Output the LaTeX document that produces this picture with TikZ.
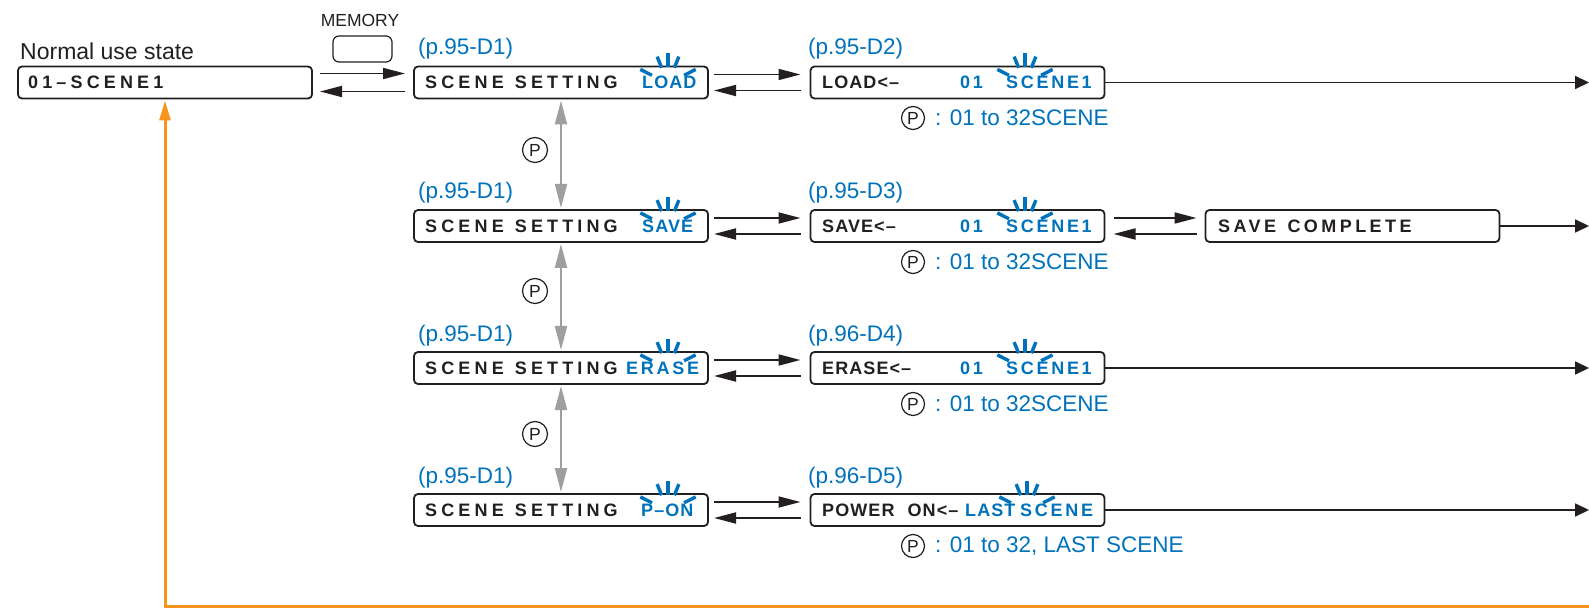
\documentclass[tikz,border=0pt]{standalone}
\usepackage{fontspec}
\setmainfont{Liberation Sans}
\newfontfamily\lcdA[LetterSpace=23]{Liberation Sans Bold}
\newfontfamily\lcdS[LetterSpace=19]{Liberation Sans Bold}
\newfontfamily\lcdB[LetterSpace=15]{Liberation Sans Bold}
\newfontfamily\lcdC[LetterSpace=6]{Liberation Sans Bold}
\usetikzlibrary{arrows.meta,calc}
\definecolor{ink}{HTML}{231F20}
\definecolor{lblue}{HTML}{0072BC}
\definecolor{agray}{HTML}{9D9FA2}
\definecolor{orng}{HTML}{F7941D}
\tikzset{
 box/.style={draw=ink, line width=1.8pt, rounded corners=4pt, minimum width=294pt, minimum height=32pt, inner sep=0pt, outer sep=0pt},
 lcd/.style={anchor=west, inner sep=0pt, text=ink, font=\lcdB\fontsize{18}{20}\selectfont},
 lcdw/.style={lcd, font=\lcdA\fontsize{18}{20}\selectfont},
 lcds/.style={lcd, font=\lcdS\fontsize{18}{20}\selectfont},
 lcdt/.style={lcd, font=\lcdC\fontsize{18}{20}\selectfont},
 lbl/.style={anchor=west, inner sep=0pt, text=lblue, font=\fontsize{22.5}{27}\selectfont},
 arr/.style={draw=ink, line width=1.8pt, -{Triangle[length=22pt,width=11pt]}},
 varr/.style={draw=agray, line width=2pt, {Triangle[length=24pt,width=12pt]}-{Triangle[length=24pt,width=12pt]}},
 earr/.style={draw=ink, line width=1.8pt, -{Triangle[length=14pt,width=13pt]}},
 oarr/.style={draw=orng, line width=3pt, -{Triangle[length=20pt,width=11pt]}},
 pc/.style={circle, draw=ink, line width=1.2pt, minimum size=23pt, inner sep=0pt, text=ink, font=\fontsize{17.5}{17.5}\selectfont},
 blink/.style={draw=lblue, line width=3.4pt},
}
\newcommand\blinkfan[1]{%
  \foreach \a/\ri/\ro in {-27/18/31,-68/17/29,-90/16/30,-112/17/29,-153/18/31}
    \draw[blink] ($(#1)+(\a:\ri)$) -- ($(#1)+(\a:\ro)$);}
\begin{document}
\begin{tikzpicture}[x=1pt,y=-1pt]
\useasboundingbox (0,0) rectangle (1589,609);
% header
\node[anchor=west, inner sep=0pt, text=ink, font=\fontsize{23}{27}\selectfont] (nus) at (20,51) {Normal use state};
\node[inner sep=0pt, text=ink, font=\fontsize{17.5}{20}\selectfont] (memt) at (360,20) {MEMORY};
\node[draw=ink, line width=1.2pt, rounded corners=6pt, minimum width=59pt, minimum height=26pt, inner sep=0pt] (memb) at (362.5,49) {};
% boxes
\node[box] (N) at (165,82.5) {};
\node[box] (L1) at (561,82.5) {};
\node[box] (S1) at (561,226) {};
\node[box] (E1) at (561,368) {};
\node[box] (P1) at (561,510) {};
\node[box] (L2) at (957.5,82.5) {};
\node[box] (S2) at (957.5,226) {};
\node[box] (E2) at (957.5,368) {};
\node[box] (P2) at (957.5,510) {};
\node[box] (S3) at (1352.5,226) {};
% box texts
\node[lcdw] (tN) at (28,82.5) {01–SCENE1};
\node[lcdw] (tL1) at (425,82.5) {SCENE\hspace{2pt} SETTING};
\node[lcdt, text=lblue] (tL1b) at (642,82.5) {LOAD};
\node[lcdw] (tS1) at (425,226) {SCENE\hspace{2pt} SETTING};
\node[lcdt, text=lblue] (tS1b) at (642,226) {SAVE};
\node[lcdw] (tE1) at (425,368) {SCENE\hspace{2pt} SETTING};
\node[lcd, text=lblue] (tE1b) at (626,368) {ERASE};
\node[lcdw] (tP1) at (425,510) {SCENE\hspace{2pt} SETTING};
\node[lcdt, text=lblue] (tP1b) at (641,510) {P–ON};
\node[lcdt] (tL2) at (822,82.5) {LOAD<–};
\node[lcd, text=lblue] (tL2a) at (960,82.5) {01};
\node[lcd, text=lblue] (tL2b) at (1006,82.5) {SCENE1};
\node[lcdt] (tS2) at (822,226) {SAVE<–};
\node[lcd, text=lblue] (tS2a) at (960,226) {01};
\node[lcd, text=lblue] (tS2b) at (1006,226) {SCENE1};
\node[lcdt] (tE2) at (822,368) {ERASE<–};
\node[lcd, text=lblue] (tE2a) at (960,368) {01};
\node[lcd, text=lblue] (tE2b) at (1006,368) {SCENE1};
\node[lcdt] (tP2) at (822,510) {POWER\hspace{7pt} ON<–};
\node[lcdt, text=lblue] (tP2a) at (965,510) {LAST};
\node[lcd, text=lblue] (tP2b) at (1020,510) {SCENE};
\node[lcds] (tS3) at (1218,226) {SAVE\hspace{3pt} COMPLETE};
% blink marks
\coordinate (f1) at (668,83.5);
\coordinate (f2) at (668,227);
\coordinate (f3) at (668,369);
\coordinate (f4) at (668,511);
\coordinate (g1) at (1025,83.5);
\coordinate (g2) at (1025,227);
\coordinate (g3) at (1025,369);
\coordinate (g4) at (1027,511);
\blinkfan{f1}\blinkfan{f2}\blinkfan{f3}\blinkfan{f4}
\blinkfan{g1}\blinkfan{g2}\blinkfan{g3}\blinkfan{g4}
% page labels
\node[lbl] (pl1) at (418,49) {(p.95-D1)};
\node[lbl] (pl2) at (418,193) {(p.95-D1)};
\node[lbl] (pl3) at (418,336) {(p.95-D1)};
\node[lbl] (pl4) at (418,478) {(p.95-D1)};
\node[lbl] (pm1) at (808,49) {(p.95-D2)};
\node[lbl] (pm2) at (808,193) {(p.95-D3)};
\node[lbl] (pm3) at (808,336) {(p.96-D4)};
\node[lbl] (pm4) at (808,478) {(p.96-D5)};
% P notes
\node[pc] (c1) at (913,118) {P};
\node[lbl] (n1) at (935,118) {: 01 to 32SCENE};
\node[pc] (c2) at (913,262) {P};
\node[lbl] (n2) at (935,262) {: 01 to 32SCENE};
\node[pc] (c3) at (913,404) {P};
\node[lbl] (n3) at (935,404) {: 01 to 32SCENE};
\node[pc] (c4) at (913,546) {P};
\node[lbl] (n4) at (935,546) {: 01 to 32, LAST SCENE};
% vertical arrows
\draw[varr] ([yshift=-2pt]L1.south) -- ([yshift=2pt]S1.north);
\draw[varr] ([yshift=-2pt]S1.south) -- ([yshift=2pt]E1.north);
\draw[varr] ([yshift=-2pt]E1.south) -- ([yshift=2pt]P1.north);
\node[pc, minimum size=25pt] (v1) at (535,150) {P};
\node[pc, minimum size=25pt] (v2) at (535,291) {P};
\node[pc, minimum size=25pt] (v3) at (535,434) {P};
% horizontal arrows
\draw[arr] ([xshift=8pt,yshift=9pt]N.east) -- ([xshift=-9pt,yshift=9pt]L1.west);
\draw[arr] ([xshift=-9pt,yshift=-9pt]L1.west) -- ([xshift=8pt,yshift=-9pt]N.east);
\foreach \a/\b in {L1/L2,S1/S2,E1/E2,P1/P2}{
  \draw[arr] ([xshift=6pt,yshift=8pt]\a.east) -- ([xshift=-10pt,yshift=8pt]\b.west);
  \draw[arr] ([xshift=-10pt,yshift=-8pt]\b.west) -- ([xshift=6pt,yshift=-8pt]\a.east);
}
\draw[arr] ([xshift=9pt,yshift=8pt]S2.east) -- ([xshift=-9pt,yshift=8pt]S3.west);
\draw[arr] ([xshift=-9pt,yshift=-8pt]S3.west) -- ([xshift=9pt,yshift=-8pt]S2.east);
% exits
\coordinate (e1) at (1589,82.5);
\coordinate (e2) at (1589,226);
\coordinate (e3) at (1589,368);
\coordinate (e4) at (1589,510);
\draw[earr] (L2.east) -- (e1);
\draw[earr] (S3.east) -- (e2);
\draw[earr] (E2.east) -- (e3);
\draw[earr] (P2.east) -- (e4);
% return
\coordinate (oe) at (1589,606);
\draw[oarr] (oe) -| ([yshift=-2pt]N.south);
\end{tikzpicture}
\end{document}
